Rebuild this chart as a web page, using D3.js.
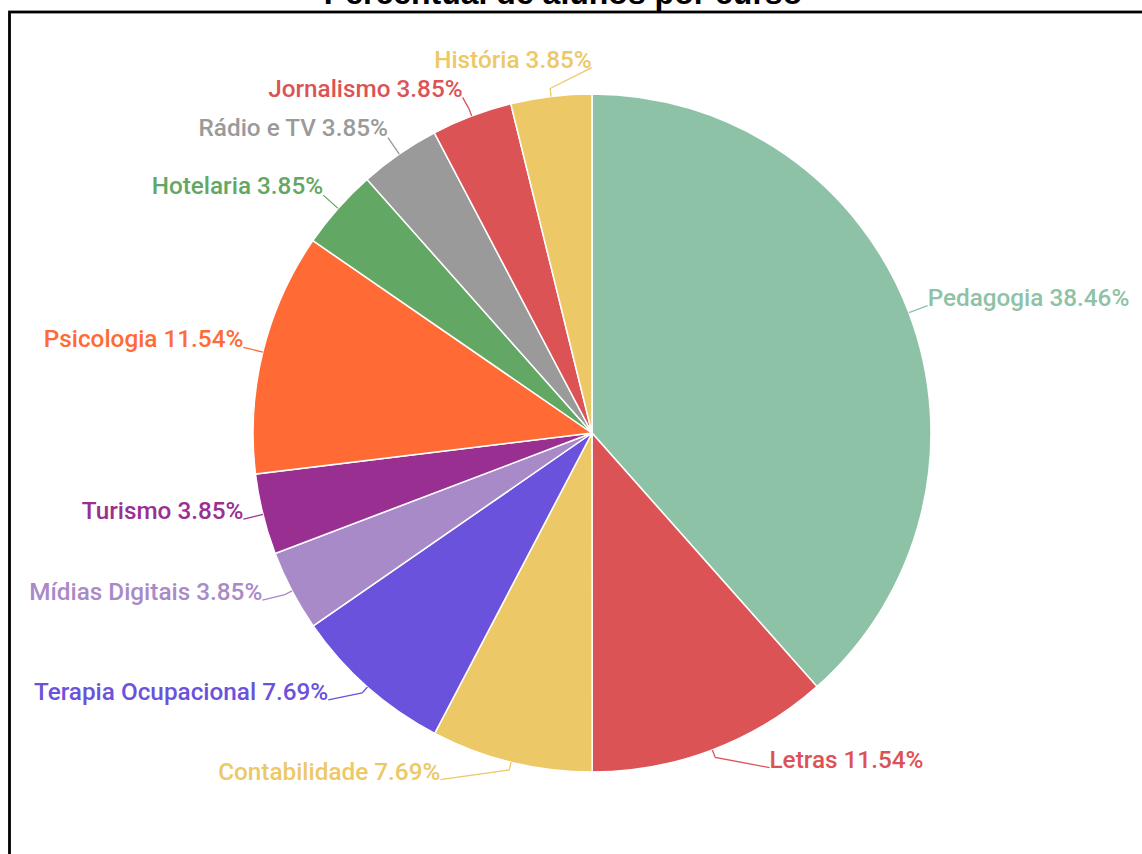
<!DOCTYPE html>
<html>
<head>
<meta charset="utf-8">
<script src="https://cdn.jsdelivr.net/npm/d3@7"></script>
<style>
  body { margin: 0; background: #fff; }
  svg { display: block; }
</style>
</head>
<body>
<svg id="chart" width="1142" height="854"></svg>
<script>
// cursos e valores (% de alunos)
const cursos = ["Pedagogia", "Letras", "Contabilidade", "Terapia Ocupacional", "Mídias Digitais",
  "Turismo", "Psicologia", "Hotelaria", "Rádio e TV", "Jornalismo", "História"];
const percentuais = [38.46, 11.54, 7.69, 7.69, 3.85, 3.85, 11.54, 3.85, 3.85, 3.85, 3.85];
const cores = ["#8ec2a6", "#dc5356", "#edc867", "#6b52dc", "#a98ac8",
  "#9a2f92", "#ff6a35", "#62a763", "#9a9a9a", "#dc5356", "#edc867"];
const titulo = "Percentual de alunos por curso";

// empurra alguns rotulos pra nao bater um no outro
const ajusteRotulo = [[0, 0], [50, -1], [-66, -2], [-26, -2], [-12, 0], [0, 0],
  [0, 0], [0, -1], [0, -2], [-2, 0], [43, -9]];

const svg = d3.select("#chart");
const cx = 592, cy = 433, raio = 339;

// moldura
svg.append("rect")
  .attr("x", 9.5).attr("y", 12)
  .attr("width", 1140).attr("height", 900)
  .attr("fill", "none")
  .attr("stroke", "#000")
  .attr("stroke-width", 2.8);

svg.append("text")
  .attr("x", 563).attr("y", 4)
  .attr("text-anchor", "middle")
  .attr("font-family", "Liberation Sans, Arial, sans-serif")
  .attr("font-weight", "bold")
  .attr("font-size", 32)
  .attr("fill", "#000")
  .text(titulo);

const dados = cursos.map((c, i) => ({ curso: c, valor: percentuais[i], cor: cores[i], idx: i }));

const pie = d3.pie().value(d => d.valor).sort(null);
const arcos = pie(dados);
const arc = d3.arc().innerRadius(0).outerRadius(raio);

const g = svg.append("g").attr("transform", "translate(" + [cx, cy] + ")");

g.selectAll("path.fatia")
  .data(arcos)
  .enter()
  .append("path")
  .classed("fatia", true)
  .attr("d", arc)
  .attr("fill", d => d.data.cor)
  .attr("stroke", "#fff")
  .attr("stroke-width", 1.5);

function ponto(d, r) {
  const a = (d.startAngle + d.endAngle) / 2;
  return [r * Math.sin(a), -r * Math.cos(a)];
}

// linhas guia
g.selectAll("polyline.guia")
  .data(arcos)
  .enter()
  .append("polyline")
  .classed("guia", true)
  .attr("points", d => {
    const p0 = ponto(d, raio);
    const p1 = ponto(d, raio + 20);
    const aj = ajusteRotulo[d.data.idx];
    const p2 = [p1[0] + aj[0], p1[1] + aj[1]];
    if (aj[0] === 0) return [p0, p1].map(p => p.join(",")).join(" ");
    return [p0, ponto(d, raio + 8), p2].map(p => p.join(",")).join(" ");
  })
  .attr("fill", "none")
  .attr("stroke", d => d.data.cor)
  .attr("stroke-width", 1.3);

// rotulos
g.selectAll("text.rotulo")
  .data(arcos)
  .enter()
  .append("text")
  .classed("rotulo", true)
  .attr("x", d => ponto(d, raio + 20)[0] + ajusteRotulo[d.data.idx][0])
  .attr("y", d => ponto(d, raio + 20)[1] + ajusteRotulo[d.data.idx][1])
  .attr("text-anchor", d => ((d.startAngle + d.endAngle) / 2 < Math.PI) ? "start" : "end")
  .attr("font-family", "Roboto, sans-serif")
  .attr("font-weight", 500)
  .attr("font-size", 24.3)
  .attr("fill", d => d.data.cor)
  .text(d => d.data.curso + " " + d.data.valor.toFixed(2) + "%");
</script>
</body>
</html>
